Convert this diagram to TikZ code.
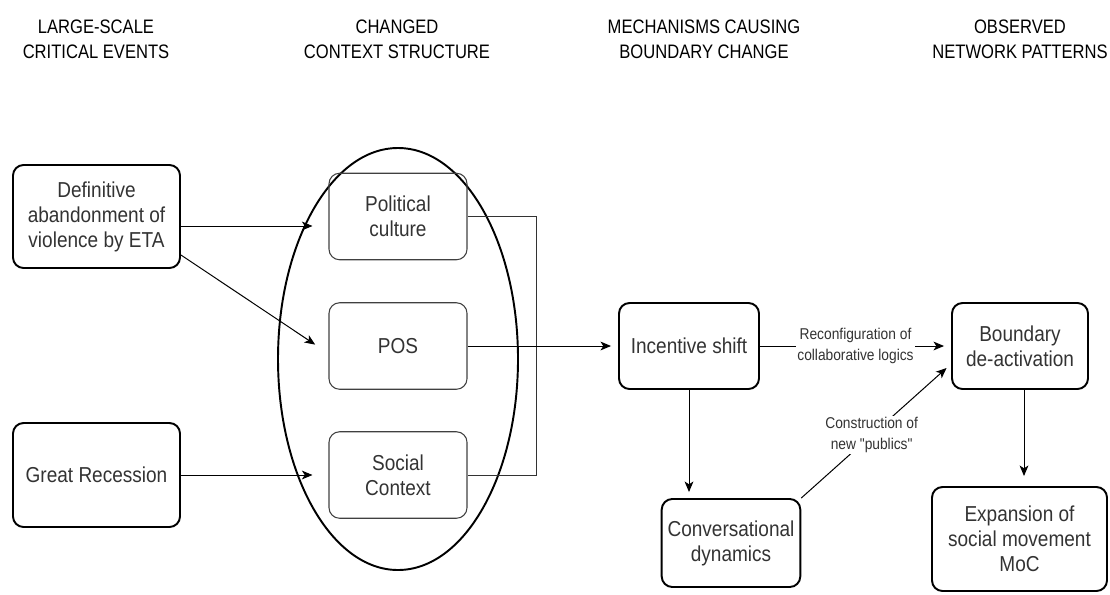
\documentclass[tikz,border=0pt]{standalone}
\usepackage{fontspec}
\setmainfont{Liberation Sans}[FakeStretch=0.88, Ligatures=TeXOff]
\newfontfamily\headfont{Liberation Sans}[FakeStretch=0.85]
\usetikzlibrary{arrows.meta,shapes.geometric}
\definecolor{txtgray}{HTML}{333333}

\begin{document}
\begin{tikzpicture}[
  >={Stealth[length=6pt,width=5pt,inset=1.6pt]},
  head/.style={align=center, font=\headfont\fontsize{11.1}{14.2}\selectfont},
  bigbox/.style={rectangle, draw, line width=1.1pt, rounded corners=6pt, align=center, text=txtgray, font=\fontsize{12.3}{14.2}\selectfont},
  ctxbox/.style={rectangle, draw=black!75, line width=0.6pt, rounded corners=6pt, align=center, text=txtgray, font=\fontsize{12.3}{14.2}\selectfont, minimum width=2.76cm, minimum height=1.73cm},
  edgelabel/.style={fill=white, inner sep=1pt, align=center, text=txtgray, font=\fontsize{8.9}{11.8}\selectfont},
  line width=0.57pt
]
\useasboundingbox (0,0) rectangle (22.2,11.88);

% column titles
\node [head] (h1) at (1.92,11.09) {LARGE-SCALE\\CRITICAL EVENTS};
\node [head] (h2) at (7.94,11.09) {CHANGED\\CONTEXT STRUCTURE};
\node [head] (h3) at (14.08,11.09) {MECHANISMS CAUSING\\BOUNDARY CHANGE};
\node [head] (h4) at (20.4,11.09) {OBSERVED\\NETWORK PATTERNS};

% events
\node [bigbox, minimum width=3.34cm, minimum height=2.06cm] (eta) at (1.93,7.55) {Definitive\\abandonment of\\violence by ETA};
\node [bigbox, minimum width=3.34cm, minimum height=2.08cm] (rec) at (1.93,2.38) {Great Recession};

% context structure
\node [ellipse, draw, line width=1.1pt, minimum width=4.8cm, minimum height=8.44cm] (ctx) at (7.96,4.70) {};
\node [ctxbox] (pol) at (7.96,7.55) {Political\\culture};
\node [ctxbox] (pos) at (7.96,4.96) {POS};
\node [ctxbox] (soc) at (7.96,2.38) {Social\\Context};

% mechanisms
\node [bigbox, minimum width=2.8cm, minimum height=1.72cm] (inc) at (13.78,4.96) {Incentive shift};
\node [bigbox, minimum width=2.76cm, minimum height=1.76cm] (conv) at (14.62,1.02) {Conversational\\dynamics};

% network patterns
\node [bigbox, minimum width=2.72cm, minimum height=1.72cm] (bnd) at (20.4,4.96) {Boundary\\de-activation};
\node [bigbox, minimum width=3.5cm, minimum height=2.08cm] (exp) at (20.39,1.10) {Expansion of\\social movement\\MoC};

\draw [->, shorten >=0.32cm] ([yshift=-0.19cm]eta.east) -- ([yshift=-0.19cm]pol.west);
\draw [->, shorten >=0.32cm] ([yshift=-0.77cm]eta.east) -- ([yshift=-0.15cm]pos.west);
\draw [->, shorten >=0.32cm] (rec.east) -- (soc.west);

\draw [draw=black!80] (pol.east) -- (10.72,7.55 |- pol.east) -- (10.72,2.38 |- soc.east) -- (soc.east);
\draw [->, shorten >=0.14cm] (pos.east) -- (inc.west);

\draw [->, shorten >=0.14cm] (inc.east) -- node [edgelabel] {Reconfiguration of\\collaborative logics} (bnd.west);
\draw [->, shorten >=0.12cm] (inc.south) -- (inc.south |- conv.north);
\draw [->, shorten >=0.12cm] (conv.north east) -- node [edgelabel, pos=0.47] {Construction of\\new "publics"} ([yshift=-0.36cm]bnd.west);

\draw [->, shorten >=0.2cm] ([xshift=0.08cm]bnd.south) -- ([xshift=0.08cm]bnd.south |- exp.north);
\end{tikzpicture}
\end{document}
